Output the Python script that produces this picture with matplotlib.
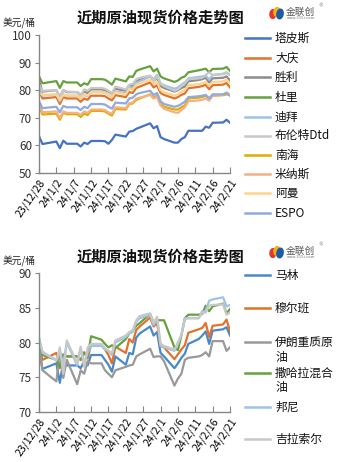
import datetime as dt
import matplotlib
matplotlib.use("Agg")
import matplotlib.pyplot as plt
from matplotlib.lines import Line2D
from matplotlib.patches import Ellipse

plt.rcParams['font.family'] = ['Noto Sans CJK SC', 'DejaVu Sans']

# trading days, 2023-12-28 .. 2024-02-21
day_strs = ["2023-12-28", "2023-12-29", "2024-01-02", "2024-01-03", "2024-01-04", "2024-01-05",
            "2024-01-08", "2024-01-09", "2024-01-10", "2024-01-11", "2024-01-12",
            "2024-01-15", "2024-01-16", "2024-01-17", "2024-01-18", "2024-01-19",
            "2024-01-22", "2024-01-23", "2024-01-24", "2024-01-25", "2024-01-26",
            "2024-01-29", "2024-01-30", "2024-01-31", "2024-02-01", "2024-02-02",
            "2024-02-05", "2024-02-06", "2024-02-07", "2024-02-08", "2024-02-09",
            "2024-02-12", "2024-02-13", "2024-02-14", "2024-02-15", "2024-02-16",
            "2024-02-19", "2024-02-20", "2024-02-21"]
days = [dt.datetime.strptime(s, "%Y-%m-%d") for s in day_strs]

tick_strs = ["2023-12-28", "2024-01-02", "2024-01-07", "2024-01-12", "2024-01-17", "2024-01-22",
             "2024-01-27", "2024-02-01", "2024-02-06", "2024-02-11", "2024-02-16", "2024-02-21"]
tick_labels = ["23/12/28", "24/1/2", "24/1/7", "24/1/12", "24/1/17", "24/1/22",
               "24/1/27", "24/2/1", "24/2/6", "24/2/11", "24/2/16", "24/2/21"]

# top chart
tapis = [63.3, 60.5, 61.4, 59.0, 61.7, 60.6, 60.6, 59.6, 61.0, 60.5, 61.6, 61.6, 61.5, 60.6, 62.0,
         63.9, 63.2, 65.0, 65.2, 66.0, 66.5, 68.0, 66.2, 67.0, 63.0, 62.3, 61.0, 61.0, 62.3, 63.0,
         65.3, 65.3, 65.3, 66.8, 66.4, 68.2, 68.3, 69.3, 68.2]
daqing = [80, 77, 77.5, 75, 77.5, 77, 77, 75.8, 77, 76.5, 78, 78, 77.8, 77, 76.3, 78.2, 77.5, 79.3,
          79.0, 80.8, 81.3, 82.8, 81, 81.8, 79, 78.3, 77, 77.5, 78.3, 78.8, 80.7, 81.2, 81.5, 82,
          80.3, 81.8, 82, 82.6, 81]
shengli = [83.5, 79.5, 80, 77.5, 80, 79.3, 79.3, 78.3, 79.5, 79, 80.3, 80.3, 80, 79.5, 78.8, 80.5,
           79.8, 81.8, 81.5, 83.3, 83.8, 85, 83.5, 84.3, 81.5, 80.8, 79.5, 80, 80.8, 81.3, 83.2,
           83.7, 84, 84.5, 82.8, 84.3, 84.5, 85, 83.5]
duri = [85, 82.5, 83.3, 80.8, 83.3, 82.8, 82.8, 81.5, 82.5, 82, 84, 84, 83.8, 83, 82, 84.2, 83.2,
        85, 84.8, 87, 87.5, 88.7, 86.8, 87.8, 85, 84.3, 83, 83.5, 84.5, 85, 86.5, 87.2, 87.5,
        87.8, 86.5, 87.7, 87.8, 88.4, 87]
dubai = [81, 78, 78.5, 76, 78.5, 78, 78, 77, 78.3, 77.8, 79.3, 79.3, 79, 78.3, 77.5, 79.5, 79, 81,
         80.8, 82.7, 83.2, 85, 84, 85.5, 82.5, 81.8, 80.5, 81, 82, 82.8, 84.3, 84.8, 85, 85.3,
         83.8, 85.5, 85.8, 86.3, 85.5]
brent = [82, 79.8, 80, 77.5, 80, 79.5, 79.3, 78, 80.3, 79.8, 80.8, 80.8, 80.5, 79.8, 79, 81.3,
         80.3, 82, 82.3, 84, 84.5, 85.3, 83.3, 85, 82.3, 81.5, 79.8, 80.3, 81.5, 82.5, 84, 84.3,
         84.5, 85.5, 86.5, 85.5, 86, 86.5, 85.5]
nanhai = [74.5, 71.2, 71.5, 69.3, 71.8, 71.3, 71.3, 70.3, 71.5, 71, 72.5, 72.5, 72.3, 71.5, 70.8,
          73.2, 73, 75, 75.2, 76.5, 77, 78.5, 77.3, 78, 75, 74, 73, 73, 73.8, 74.5, 77, 77.3,
          77.5, 78, 77, 78, 78.2, 78.5, 78.3]
minas = [75, 72, 72.3, 70, 72.3, 71.8, 71.8, 71, 72.3, 71.8, 73, 73, 72.8, 72, 71.5, 73.8, 73.5,
         75.3, 75.5, 77, 77.3, 78.3, 77, 77.5, 74.5, 73.3, 72, 71.8, 72.8, 73.8, 76, 76.3, 76.5,
         77, 76.2, 78, 78.3, 79.2, 78.3]
oman = [79, 78.3, 78.5, 76.5, 78.3, 78, 78, 76.8, 78.5, 78, 79.3, 79.3, 79, 78.3, 77.5, 79.3,
        78.5, 80.5, 80.3, 82, 82.5, 83.8, 82.3, 83, 80, 79.3, 78, 78.5, 79.5, 80, 81.8, 82.2,
        82.5, 83, 81.5, 83, 83.2, 83.8, 82.5]
espo = [76, 73.5, 74, 72, 74.3, 73.8, 73.8, 72.8, 74, 73.5, 75, 75, 74.8, 74, 73.3, 75.5, 75.2,
        77, 77.3, 78.5, 79, 79.8, 78.3, 79, 76, 75, 74, 74.3, 75, 75.8, 77.5, 77.8, 78, 78.3, 77,
        78.5, 78.5, 79, 78]

# bottom chart
marine = [79, 76.2, 77, 74.2, 77.3, 76.7, 76.7, 76.3, 77.3, 76.7, 78.2, 78.2, 77.5, 76.8, 75.8,
          78, 76.8, 78.5, 78.3, 80.7, 81.3, 82.3, 81, 81.5, 78.5, 78, 76.3, 77, 77.8, 78.4, 79.8,
          80.5, 81, 81.6, 79.8, 81.7, 81.9, 82.2, 81]
murban = [79.5, 77.5, 78.5, 76.3, 78.2, 78, 78, 77.5, 78.6, 77.7, 79.7, 79.7, 79, 78.2, 77, 79.4,
          78.5, 80.5, 80, 81.8, 82.3, 83.6, 82.3, 82.8, 79.5, 79.3, 77.6, 78.3, 79, 79.6, 81.4,
          81.9, 82.1, 82.8, 80.8, 82.4, 82.6, 83.3, 81.6]
iran_heavy = [79.7, 76, 74.4, 78.8, 74.9, 77.5, 74, 76, 75.5, 77.3, 77, 77, 76, 75.5, 75, 76, 76.5,
              76.7, 76.8, 78, 78.3, 79.1, 77.9, 78, 78, 77.3, 73.8, 74.8, 75.5, 77.5, 77.8, 78,
              78.2, 78.6, 78, 80.2, 80.2, 78.8, 79.3]
saharan = [80, 78.2, 77.5, 76.5, 78.3, 78, 78, 77.5, 78.5, 78, 80.9, 80.4, 79.8, 79.3, 79.6, 79.2,
           80.5, 81.3, 81.7, 82.4, 82.8, 84.1, 82.9, 83.2, 83.2, 83.2, 79.3, 78.9, 81, 83.5, 84,
           84, 84.1, 85.3, 84.5, 85.2, 85.6, 84.2, 84.8]
bonny = [80.8, 78.5, 77.5, 78.5, 77, 80, 76.7, 79.2, 77, 78.5, 79.5, 79.5, 79, 78.8, 78.2, 80,
         80.8, 81.3, 81.5, 83, 83.5, 84, 82.5, 83.5, 79.5, 79.3, 78.8, 80, 81, 83.5, 83.5, 83.5,
         84.5, 84.5, 86, 86.2, 86.5, 85.2, 85.4]
girassol = [80.5, 78.7, 77.4, 79.3, 75.5, 80.3, 77, 79.4, 76.5, 79.3, 79.8, 79.8, 79.2, 78.8, 78.5,
            80.3, 81, 81.5, 81.8, 83.2, 83.8, 84.2, 82.8, 83.7, 79.8, 79.5, 79, 79.8, 81.2, 83.3,
            83.5, 83.5, 84.3, 84.3, 85.3, 85.4, 85.5, 84, 84.3]

top_series = [("塔皮斯", tapis, "#4472C4"), ("大庆", daqing, "#E2712B"),
              ("胜利", shengli, "#8C8C8C"), ("杜里", duri, "#66A13E"),
              ("迪拜", dubai, "#9DC3E6"), ("布伦特Dtd", brent, "#C8C8C8"),
              ("南海", nanhai, "#E2AA00"), ("米纳斯", minas, "#F4B183"),
              ("阿曼", oman, "#FFD38A"), ("ESPO", espo, "#8FAADC")]
bot_series = [("马林", marine, "#4A89C8"), ("穆尔班", murban, "#E2712B"),
              ("伊朗重质原\n油", iran_heavy, "#999999"), ("撒哈拉混合\n油", saharan, "#66A13E"),
              ("邦尼", bonny, "#9DC3E6"), ("吉拉索尔", girassol, "#C8C8C8")]

W, H = 338, 462
fig = plt.figure(figsize=(W / 100, H / 100), dpi=100)


def fx(x):
    return x / W


def fy(y):
    return 1 - y / H


def logo(y0):
    # rough 金联创 mark
    fig.patches.append(Ellipse((fx(273), fy(y0 + 1)), 6 / W, 9 / H, angle=-30,
                               color="#E7352B", transform=fig.transFigure))
    fig.patches.append(Ellipse((fx(277), fy(y0 - 1)), 6 / W, 9 / H, angle=-30,
                               color="#F2B21A", transform=fig.transFigure))
    fig.patches.append(Ellipse((fx(280), fy(y0 + 1)), 6 / W, 10 / H, angle=-30,
                               color="#1F5AA6", transform=fig.transFigure))
    fig.text(fx(286), fy(y0 - 1.5), "金联创", fontsize=7, color="#555555",
             va="center", ha="left")
    fig.text(fx(287), fy(y0 + 5), "www.315i.com", fontsize=2.8, color="#777777",
             va="center", ha="left", family="DejaVu Sans")
    fig.text(fx(318), fy(y0 - 7), "®", fontsize=3.5, color="#777777",
             va="center", ha="left", family="DejaVu Sans")


def panel(top, bottom, series, ylo, yhi, ystep, title_y, unit_y, logo_y, leg_rows):
    ax = fig.add_axes([fx(39), fy(bottom), fx(230) - fx(39), fy(top) - fy(bottom)])
    for name, vals, col in series:
        ax.plot(days, vals, color=col, lw=1.6, solid_joinstyle="round")
    ax.set_xlim(days[0], days[-1])
    ax.set_ylim(ylo, yhi)
    ax.set_yticks(range(ylo, yhi + 1, ystep))
    ticks = [dt.datetime.strptime(s, "%Y-%m-%d") for s in tick_strs]
    ax.set_xticks(ticks)
    ax.set_xticklabels(tick_labels, rotation=55, ha="right", va="top",
                       rotation_mode="anchor", fontsize=7.5)
    ax.tick_params(axis="x", direction="in", length=4, color="#868686", pad=3)
    ax.tick_params(axis="y", direction="out", length=3, color="#868686", labelsize=8.5,
                   pad=2, labelcolor="#333333")
    for s in ["top", "right"]:
        ax.spines[s].set_visible(False)
    for s in ["left", "bottom"]:
        ax.spines[s].set_color("#868686")
        ax.spines[s].set_linewidth(1.0)

    fig.text(fx(160), fy(title_y), "近期原油现货价格走势图", fontsize=11,
             fontweight="bold", ha="center", va="center", color="#111111")
    fig.text(fx(3), fy(unit_y), "美元/桶", fontsize=7, ha="left", va="center",
             color="#222222")
    logo(logo_y)

    for (name, vals, col), ry in zip(series, leg_rows):
        fig.lines.append(Line2D([fx(245), fx(270)], [fy(ry), fy(ry)], color=col, lw=1.8,
                                transform=fig.transFigure))
        fig.text(fx(275), fy(ry - 6.5), name, fontsize=8.5, ha="left", va="top",
                 color="#111111", linespacing=1.2)
    return ax


panel(35, 173, top_series, 50, 100, 10, 18, 23, 13,
      [38, 58, 77, 97, 117, 136, 155, 174, 193, 213])
panel(273, 412, bot_series, 70, 90, 5, 257, 261, 252,
      [275, 308, 342, 373, 407, 439])

fig.savefig("out.png", dpi=100)
